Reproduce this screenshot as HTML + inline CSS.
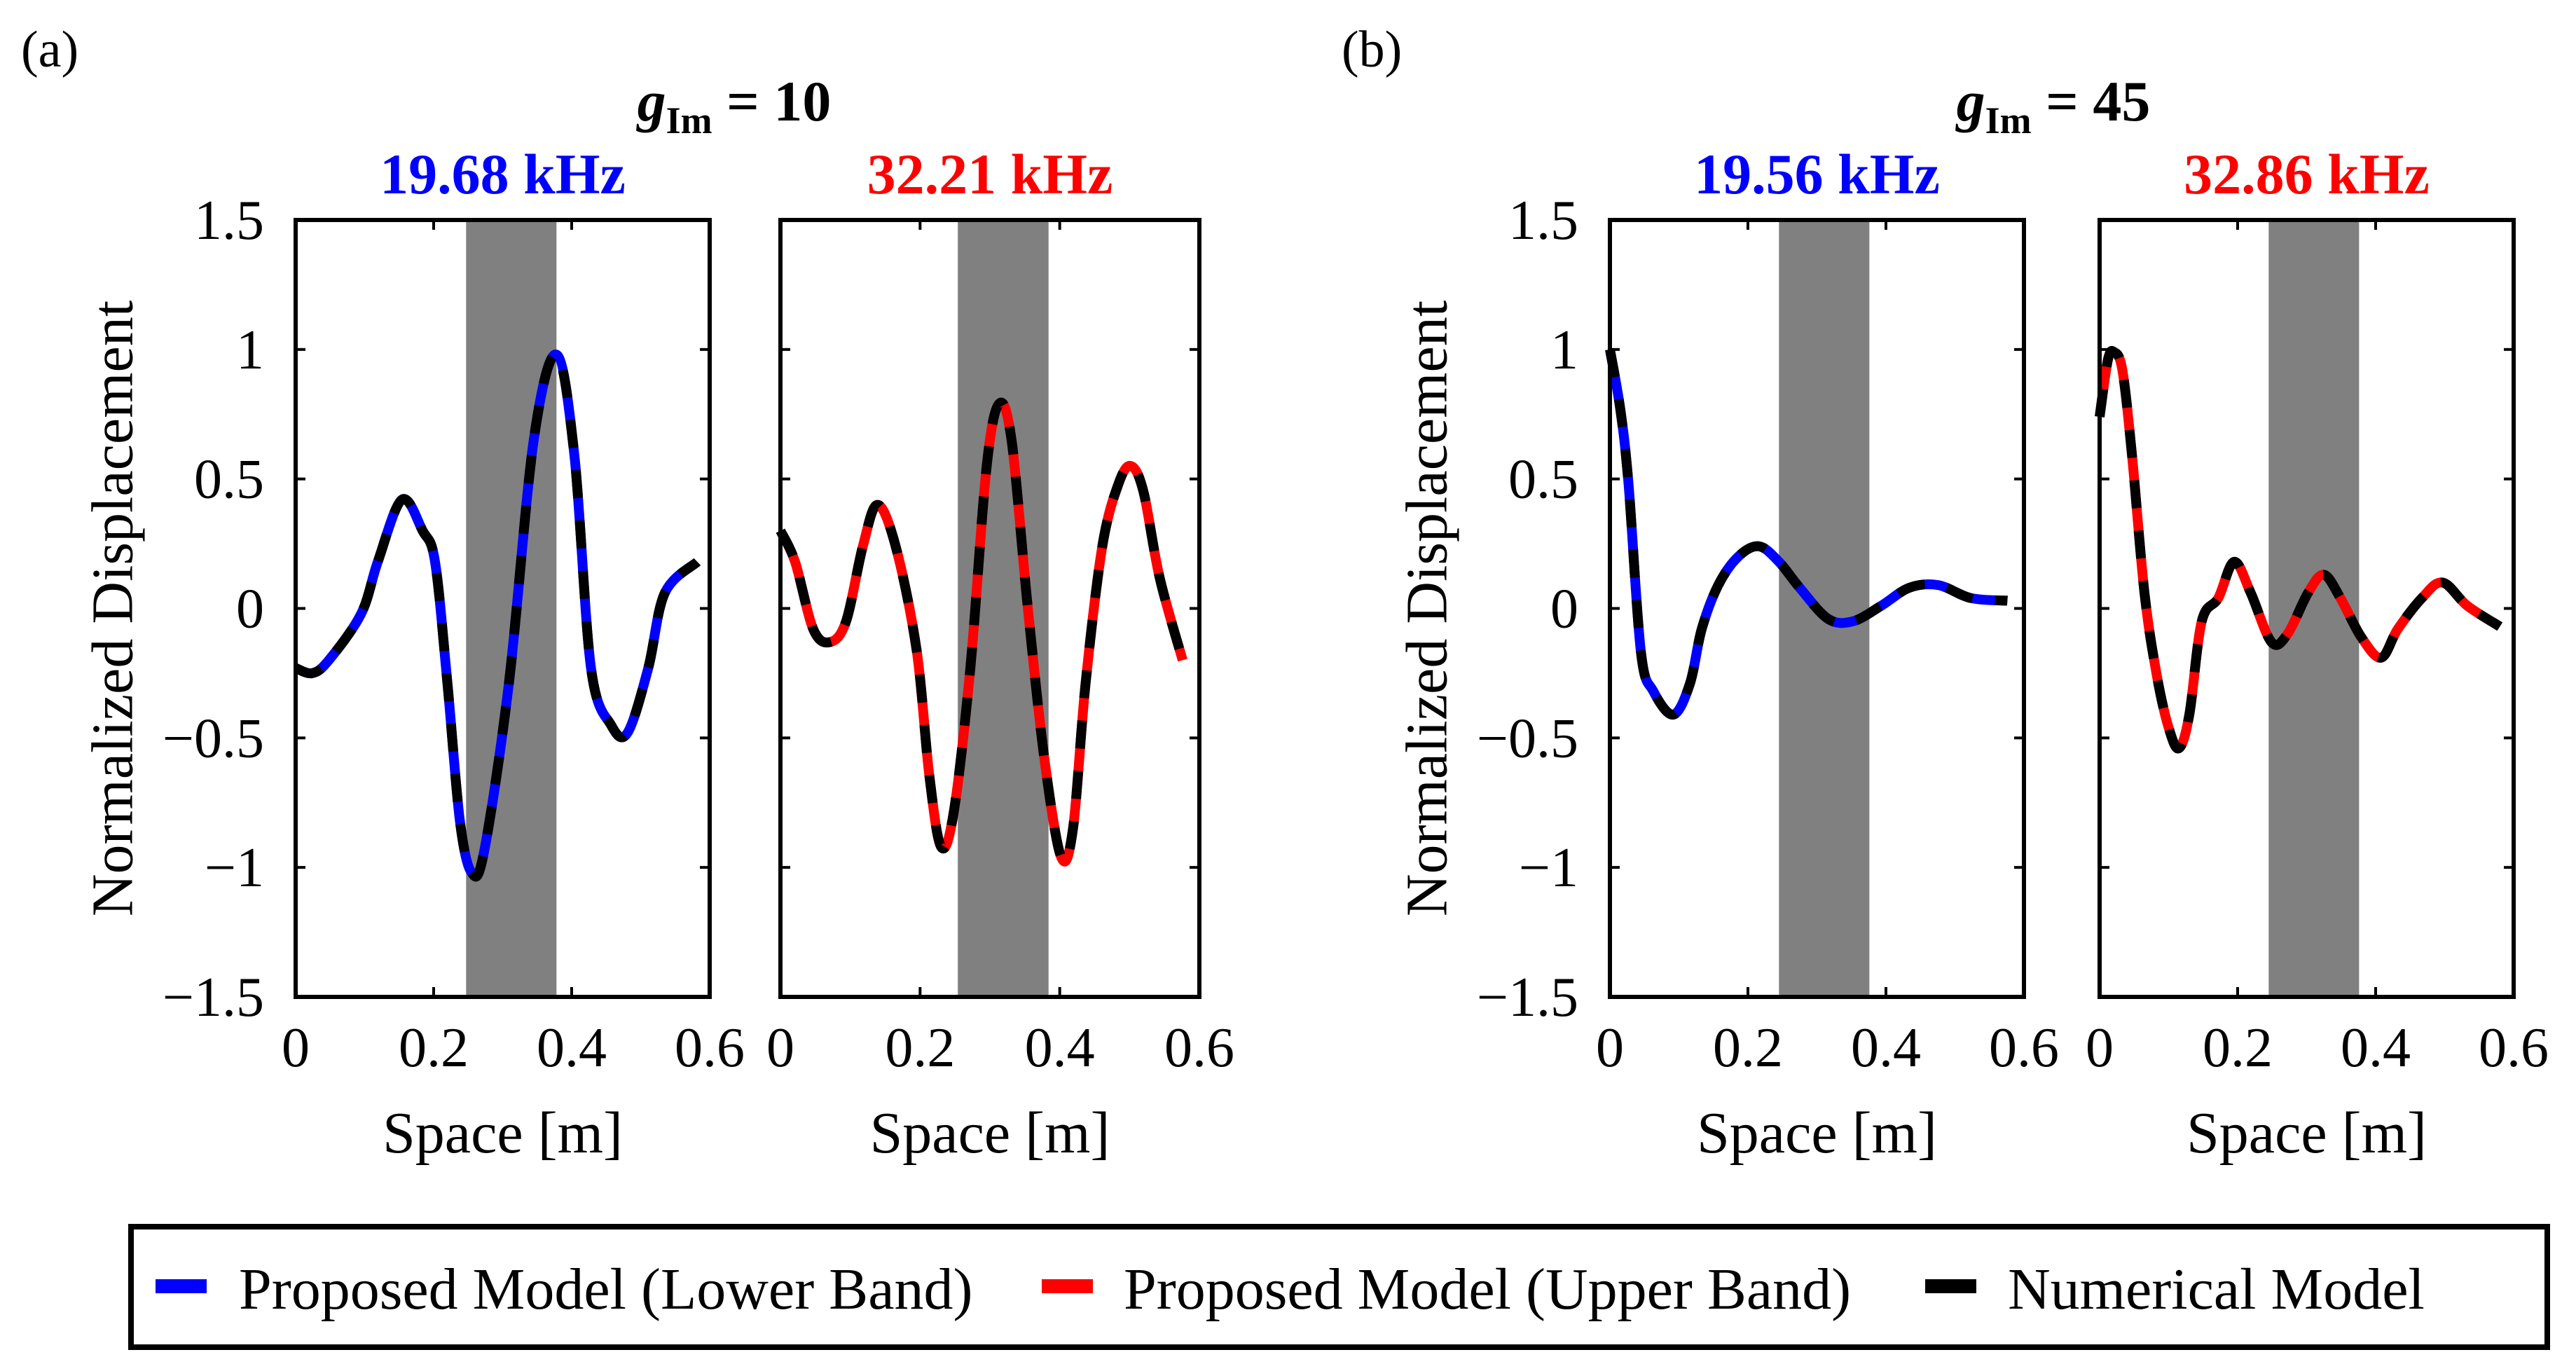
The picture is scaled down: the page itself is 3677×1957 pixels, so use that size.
<!DOCTYPE html>
<html><head><meta charset="utf-8">
<style>
html,body{margin:0;padding:0;background:#fff;}
svg{display:block;font-family:"Liberation Serif",serif;}
</style></head>
<body>
<svg id="fig" width="3677" height="1957" viewBox="0 0 3677 1957" xmlns="http://www.w3.org/2000/svg">
<rect x="0" y="0" width="3677" height="1957" fill="#fff"/>
<text x="30" y="95" font-size="74">(a)</text>
<text x="1915" y="95" font-size="74">(b)</text>
<text x="1048" y="172" font-size="82" font-weight="bold" text-anchor="middle"><tspan font-style="italic">g</tspan><tspan font-size="54" dy="18">Im</tspan><tspan dy="-18"> = 10</tspan></text>
<text x="2931" y="172" font-size="82" font-weight="bold" text-anchor="middle"><tspan font-style="italic">g</tspan><tspan font-size="54" dy="18">Im</tspan><tspan dy="-18"> = 45</tspan></text>
<g id="panels"></g>
<g>
<rect x="187" y="1751" width="3449" height="172" fill="#fff" stroke="#000" stroke-width="8"/>
<rect x="222" y="1826" width="73" height="20" fill="#0000ff"/>
<text x="341" y="1868" font-size="84">Proposed Model (Lower Band)</text>
<rect x="1487" y="1826" width="73" height="20" fill="#ff0000"/>
<text x="1604" y="1868" font-size="84">Proposed Model (Upper Band)</text>
<rect x="2748" y="1826" width="73" height="20" fill="#000"/>
<text x="2866" y="1868" font-size="84">Numerical Model</text>
</g>
</svg>
<script>
const xTicks = [0, 0.2, 0.4, 0.6];
const xTickLabels = ["0", "0.2", "0.4", "0.6"];
const yTicks = [-1.5, -1, -0.5, 0, 0.5, 1, 1.5];
const yTickLabels = ["\u22121.5", "\u22121", "\u22120.5", "0", "0.5", "1", "1.5"];
const panelTitles = ["19.68 kHz", "32.21 kHz", "19.56 kHz", "32.86 kHz"];
const bandStart = [0.247, 0.254, 0.245, 0.245];
const bandEnd = [0.378, 0.384, 0.376, 0.376];
const p1x = [0,0.024,0.048,0.095,0.119,0.154,0.184,0.202,0.22,0.238,0.255,0.273,0.309,0.345,0.378,0.404,0.428,0.457,0.481,0.511,0.535,0.582];
const p1y = [-0.23,-0.25,-0.2,-0.02,0.18,0.42,0.3,0.18,-0.29,-0.82,-1.02,-0.94,-0.29,0.65,0.98,0.59,-0.23,-0.45,-0.48,-0.23,0.06,0.18];
const p2x = [0,0.021,0.047,0.071,0.094,0.118,0.139,0.165,0.195,0.213,0.23,0.248,0.272,0.295,0.313,0.331,0.354,0.378,0.402,0.419,0.437,0.461,0.484,0.502,0.52,0.543,0.576];
const p2y = [0.3,0.18,-0.08,-0.13,-0.05,0.24,0.4,0.24,-0.16,-0.64,-0.92,-0.79,-0.23,0.54,0.79,0.65,0.01,-0.58,-0.96,-0.85,-0.29,0.24,0.48,0.55,0.45,0.12,-0.2];
const p3x = [0,0.015,0.027,0.045,0.063,0.092,0.116,0.133,0.157,0.186,0.216,0.245,0.275,0.316,0.352,0.393,0.434,0.476,0.523,0.576];
const p3y = [1.0,0.77,0.48,-0.17,-0.32,-0.41,-0.29,-0.08,0.09,0.2,0.24,0.18,0.08,-0.04,-0.05,0.01,0.08,0.09,0.04,0.03];
const p4x = [0,0.012,0.021,0.033,0.047,0.065,0.083,0.1,0.115,0.13,0.148,0.172,0.195,0.219,0.249,0.272,0.302,0.325,0.349,0.379,0.408,0.432,0.467,0.497,0.533,0.58];
const p4y = [0.74,0.96,0.99,0.92,0.59,0.06,-0.26,-0.46,-0.54,-0.41,-0.05,0.04,0.18,0.06,-0.13,-0.1,0.06,0.13,0.04,-0.11,-0.19,-0.08,0.04,0.1,0.01,-0.07];
const seriesX = [p1x, p2x, p3x, p4x];
const seriesY = [p1y, p2y, p3y, p4y];
const panelColors = ["#0000ff", "#ff0000", "#0000ff", "#ff0000"];

const NS = "http://www.w3.org/2000/svg";
const lefts = [422, 1114, 2298, 2997];
const rights = [1013, 1712, 2889, 3588];
const topY = 314, bottomY = 1423;
const g = document.getElementById("panels");
function mk(tag, attrs, parent) {
  const e = document.createElementNS(NS, tag);
  for (const k in attrs) e.setAttribute(k, attrs[k]);
  (parent || g).appendChild(e);
  return e;
}
function smoothPath(pts) {
  let d = "M" + pts[0][0] + "," + pts[0][1];
  for (let i = 0; i < pts.length - 1; i++) {
    const p0 = pts[Math.max(0, i - 1)], p1 = pts[i], p2 = pts[i + 1], p3 = pts[Math.min(pts.length - 1, i + 2)];
    const c1x = p1[0] + (p2[0] - p0[0]) / 6, c1y = p1[1] + (p2[1] - p0[1]) / 6;
    const c2x = p2[0] - (p3[0] - p1[0]) / 6, c2y = p2[1] - (p3[1] - p1[1]) / 6;
    d += " C" + c1x + "," + c1y + " " + c2x + "," + c2y + " " + p2[0] + "," + p2[1];
  }
  return d;
}
for (let p = 0; p < 4; p++) {
  const L = lefts[p], R = rights[p];
  const sx = v => L + (v - 0) / 0.6 * (R - L);
  const sy = v => bottomY - (v + 1.5) / 3 * (bottomY - topY);
  const pg = mk("g", {});
  
  
  const band = mk("rect", {x: sx(bandStart[p]), y: topY, width: sx(bandEnd[p]) - sx(bandStart[p]), height: bottomY - topY, fill: "#808080"}, pg);
  
  
  const pts = seriesX[p].map((x, i) => [sx(x), sy(seriesY[p][i])]);
  const d = smoothPath(pts);
  const prop = mk("path", {d: d, fill: "none", stroke: panelColors[p], "stroke-width": 14, "stroke-linejoin": "round"}, pg);
  
  
  const num = mk("path", {d: d, fill: "none", stroke: "#000", "stroke-width": 14, "stroke-dasharray": "40 32"}, pg);
  
  
  const box = mk("rect", {x: L, y: topY, width: R - L, height: bottomY - topY, fill: "none", stroke: "#000", "stroke-width": 6}, pg);
  
  
  xTicks.forEach((t, i) => {
    const x = sx(t);
    const tk = mk("line", {x1: x, x2: x, y1: bottomY, y2: bottomY - 14, stroke: "#000", "stroke-width": 4}, pg);
    
    
    mk("line", {x1: x, x2: x, y1: topY, y2: topY + 14, stroke: "#000", "stroke-width": 4}, pg);
    const tl = mk("text", {x: x, y: 1522, "font-size": 80, "text-anchor": "middle"}, pg);
    tl.textContent = xTickLabels[i];
    
    
  });
  yTicks.forEach((t, i) => {
    const y = sy(t);
    mk("line", {x1: L, x2: L + 14, y1: y, y2: y, stroke: "#000", "stroke-width": 4}, pg);
    mk("line", {x1: R, x2: R - 14, y1: y, y2: y, stroke: "#000", "stroke-width": 4}, pg);
    if (p === 0 || p === 2) {
      const tl = mk("text", {x: L - 45, y: y + 27, "font-size": 80, "text-anchor": "end"}, pg);
      tl.textContent = yTickLabels[i];
      
      
    }
  });
  const xl = mk("text", {x: (L + R) / 2, y: 1645, "font-size": 84, "text-anchor": "middle"}, pg);
  xl.textContent = "Space [m]";
  
  
  const tt = mk("text", {x: (L + R) / 2, y: 276, "font-size": 82, "font-weight": "bold", "text-anchor": "middle", fill: panelColors[p]}, pg);
  tt.textContent = panelTitles[p];
  
  
  if (p === 0 || p === 2) {
    const cx = L - 253, cy = (topY + bottomY) / 2;
    const yl = mk("text", {x: cx, y: cy, "font-size": 84, "text-anchor": "middle", "dominant-baseline": "middle", transform: "rotate(-90 " + cx + " " + cy + ")"}, pg);
    yl.textContent = "Normalized Displacement";
    
    
  }
}
</script>
</body></html>
